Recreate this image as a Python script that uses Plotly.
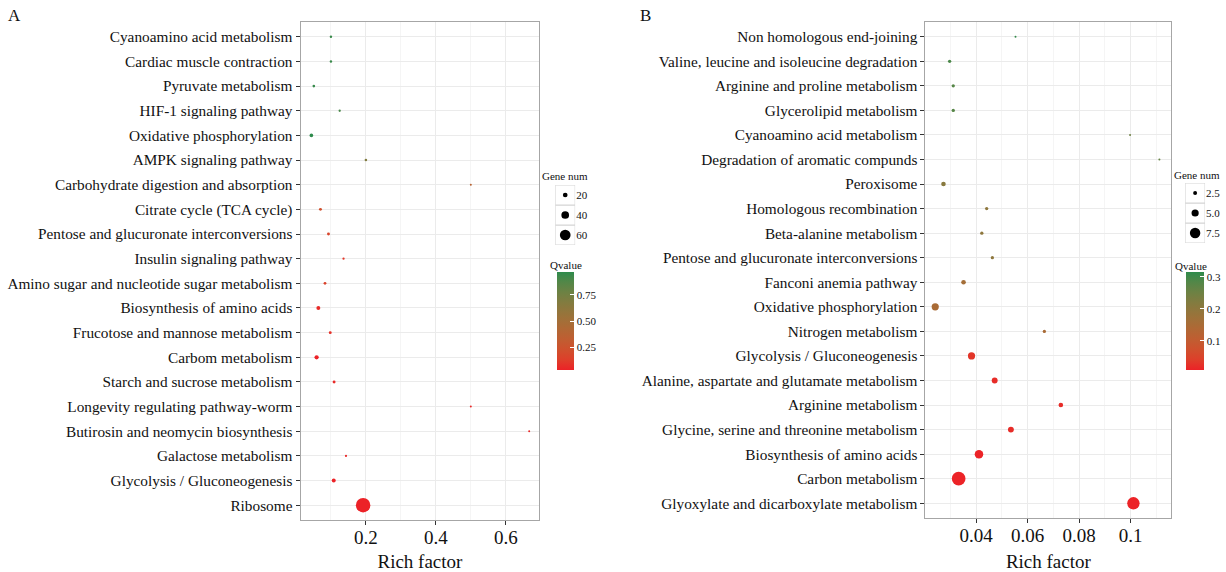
import plotly.graph_objects as go

# ---------------- data ----------------
a_terms = [
    "Cyanoamino acid metabolism", "Cardiac muscle contraction", "Pyruvate metabolism",
    "HIF-1 signaling pathway", "Oxidative phosphorylation", "AMPK signaling pathway",
    "Carbohydrate digestion and absorption", "Citrate cycle (TCA cycle)",
    "Pentose and glucuronate interconversions", "Insulin signaling pathway",
    "Amino sugar and nucleotide sugar metabolism", "Biosynthesis of amino acids",
    "Frucotose and mannose metabolism", "Carbom metabolism", "Starch and sucrose metabolism",
    "Longevity regulating pathway-worm", "Butirosin and neomycin biosynthesis",
    "Galactose metabolism", "Glycolysis / Gluconeogenesis", "Ribosome",
]
a_rich = [0.100, 0.100, 0.051, 0.125, 0.044, 0.200, 0.500, 0.070, 0.093, 0.136,
          0.083, 0.064, 0.098, 0.059, 0.109, 0.500, 0.667, 0.143, 0.108, 0.192]
a_genes = [5, 5, 6, 4, 13, 6, 2, 8, 8, 4, 7, 15, 8, 17, 8, 2, 2, 3, 15, 85]
a_q = [0.94, 0.94, 0.95, 0.90, 0.97, 0.68, 0.38, 0.22, 0.16, 0.10,
       0.15, 0.06, 0.08, 0.03, 0.06, 0.05, 0.05, 0.05, 0.03, 0.03]

b_terms = [
    "Non homologous end-joining", "Valine, leucine and isoleucine degradation",
    "Arginine and proline metabolism", "Glycerolipid metabolism",
    "Cyanoamino acid metabolism", "Degradation of aromatic compunds", "Peroxisome",
    "Homologous recombination", "Beta-alanine metabolism",
    "Pentose and glucuronate interconversions", "Fanconi anemia pathway",
    "Oxidative phosphorylation", "Nitrogen metabolism", "Glycolysis / Gluconeogenesis",
    "Alanine, aspartate and glutamate metabolism", "Arginine metabolism",
    "Glycine, serine and threonine metabolism", "Biosynthesis of amino acids",
    "Carbon metabolism", "Glyoxylate and dicarboxylate metabolism",
]
b_rich = [0.0553, 0.0297, 0.0311, 0.0311, 0.0998, 0.1112, 0.0273, 0.0441, 0.0422, 0.0463,
          0.0351, 0.0241, 0.0665, 0.0382, 0.0472, 0.0729, 0.0535, 0.0411, 0.0332, 0.1011]
b_genes = [1, 2, 2, 2, 1, 1, 3, 2, 2, 2, 3, 5, 2, 5, 4, 3, 4, 6, 10, 9]
b_q = [0.31, 0.29, 0.28, 0.28, 0.25, 0.26, 0.21, 0.20, 0.20, 0.20,
       0.16, 0.15, 0.15, 0.03, 0.02, 0.02, 0.02, 0.01, 0.01, 0.01]

a_size_breaks = [20, 40, 60]
b_size_breaks = [2.5, 5.0, 7.5]
a_size_labels = ["20", "40", "60"]
b_size_labels = ["2.5", "5.0", "7.5"]
a_q_ticks = [0.25, 0.50, 0.75]
b_q_ticks = [0.1, 0.2, 0.3]
a_q_labels = ["0.25", "0.50", "0.75"]
b_q_labels = ["0.1", "0.2", "0.3"]
a_x_ticks = [0.2, 0.4, 0.6]
b_x_ticks = [0.04, 0.06, 0.08, 0.1]
a_x_labels = ["0.2", "0.4", "0.6"]
b_x_labels = ["0.04", "0.06", "0.08", "0.1"]

# ---------------- styling helpers ----------------
W, H = 1226, 572
FONT = "Liberation Serif, Times New Roman, serif"
TXT = "#111111"


def srgb_to_lin(c):
    c = c / 255.0
    return c / 12.92 if c <= 0.04045 else ((c + 0.055) / 1.055) ** 2.4


def lin_to_srgb(c):
    c = max(0.0, min(1.0, c))
    v = 12.92 * c if c <= 0.0031308 else 1.055 * c ** (1 / 2.4) - 0.055
    return int(round(max(0, min(1, v)) * 255))


def rgb_to_lab(rgb):
    r, g, b = [srgb_to_lin(v) for v in rgb]
    x = (0.4124 * r + 0.3576 * g + 0.1805 * b) / 0.95047
    y = (0.2126 * r + 0.7152 * g + 0.0722 * b)
    z = (0.0193 * r + 0.1192 * g + 0.9505 * b) / 1.08883

    def f(t):
        return t ** (1 / 3) if t > 0.008856 else 7.787 * t + 16 / 116
    fx, fy, fz = f(x), f(y), f(z)
    return (116 * fy - 16, 500 * (fx - fy), 200 * (fy - fz))


def lab_to_rgb(lab):
    L, A, B = lab
    fy = (L + 16) / 116
    fx = fy + A / 500
    fz = fy - B / 200

    def finv(t):
        return t ** 3 if t ** 3 > 0.008856 else (t - 16 / 116) / 7.787
    x, y, z = finv(fx) * 0.95047, finv(fy), finv(fz) * 1.08883
    r = 3.2406 * x - 1.5372 * y - 0.4986 * z
    g = -0.9689 * x + 1.8758 * y + 0.0415 * z
    b = 0.0557 * x - 0.2040 * y + 1.0570 * z
    return "rgb(%d,%d,%d)" % (lin_to_srgb(r), lin_to_srgb(g), lin_to_srgb(b))


LOW = (236, 34, 39)
HIGH = (46, 139, 76)
lo_lab, hi_lab = rgb_to_lab(LOW), rgb_to_lab(HIGH)
colorscale = []
for i in range(11):
    t = i / 10
    lab = tuple(lo_lab[k] + (hi_lab[k] - lo_lab[k]) * t for k in range(3))
    colorscale.append([t, lab_to_rgb(lab)])


def diam_a(g):
    return 1.7 + 0.15 * g


def diam_b(g):
    return 0.7 + 1.3 * g


def px_x(p):
    return p / W


def px_y(p):
    return 1 - p / H


fig = go.Figure()

fig.add_trace(go.Scatter(
    x=a_rich, y=a_terms, mode="markers", xaxis="x", yaxis="y", showlegend=False,
    marker=dict(size=[diam_a(g) for g in a_genes], sizemode="diameter",
                color=a_q, coloraxis="coloraxis", line=dict(width=0), opacity=1),
    hoverinfo="x+y",
))
fig.add_trace(go.Scatter(
    x=b_rich, y=b_terms, mode="markers", xaxis="x2", yaxis="y2", showlegend=False,
    marker=dict(size=[diam_b(g) for g in b_genes], sizemode="diameter",
                color=b_q, coloraxis="coloraxis2", line=dict(width=0), opacity=1),
    hoverinfo="x+y",
))

# size legends (keys drawn on small helper axes)
fig.add_trace(go.Scatter(
    x=[0 for _ in a_size_breaks], y=a_size_labels, mode="markers", xaxis="x3", yaxis="y3",
    showlegend=False, hoverinfo="skip",
    marker=dict(size=[diam_a(g) for g in a_size_breaks], sizemode="diameter",
                color="black", line=dict(width=0), opacity=1),
))
fig.add_trace(go.Scatter(
    x=[0 for _ in b_size_breaks], y=b_size_labels, mode="markers", xaxis="x4", yaxis="y4",
    showlegend=False, hoverinfo="skip",
    marker=dict(size=[diam_b(g) for g in b_size_breaks], sizemode="diameter",
                color="black", line=dict(width=0), opacity=1),
))

grid = "#EBEBEB"
minor_grid = "#F5F5F5"
border = "#A6A6A6"


def xaxis(domain, rng, ticks, texts, minor_vals, anchor):
    return dict(
        domain=domain, range=rng, anchor=anchor, tickmode="array", tickvals=ticks,
        ticktext=texts,
        showgrid=True, gridcolor=grid, gridwidth=1, zeroline=False,
        showline=True, mirror=True, linecolor=border, linewidth=1,
        ticks="outside", ticklen=4, tickcolor="#333333", tickwidth=1,
        ticklabelstandoff=-4,
        tickfont=dict(family=FONT, size=19, color=TXT),
        title=dict(text="Rich factor", font=dict(family=FONT, size=19, color=TXT), standoff=10),
        minor=dict(tickmode="array", tickvals=minor_vals, showgrid=True,
                   gridcolor=minor_grid, ticks=""),
        automargin=False, fixedrange=True,
    )


def yaxis(domain, terms, anchor):
    return dict(
        domain=domain, anchor=anchor, type="category", categoryorder="array",
        categoryarray=list(reversed(terms)), range=[-0.6, len(terms) - 0.4],
        showgrid=True, gridcolor=grid, gridwidth=1, zeroline=False,
        showline=True, mirror=True, linecolor=border, linewidth=1,
        ticks="outside", ticklen=4, tickcolor="#333333", tickwidth=1,
        tickfont=dict(family=FONT, size=15.3, color=TXT),
        automargin=False, fixedrange=True,
    )


def key_xaxis(domain, anchor):
    return dict(domain=domain, anchor=anchor, range=[-0.5, 0.5], visible=False,
                fixedrange=True)


def key_yaxis(domain, anchor, labels):
    return dict(domain=domain, anchor=anchor, type="category", categoryorder="array",
                categoryarray=list(reversed(labels)), range=[-0.5, len(labels) - 0.5],
                side="right", showgrid=False, zeroline=False, showline=False, ticks="",
                tickfont=dict(family=FONT, size=11, color=TXT), automargin=False,
                fixedrange=True)


def colorbar(x_px, thick, tickvals, ticktext):
    return dict(
        x=px_x(x_px), xanchor="left", y=px_y(272), yanchor="top",
        len=98, lenmode="pixels", thickness=thick, thicknessmode="pixels",
        outlinewidth=0, tickmode="array", tickvals=tickvals,
        ticktext=ticktext, ticks="inside", ticklen=4,
        tickcolor="white", tickfont=dict(family=FONT, size=11, color=TXT),
        xpad=0, ypad=0,
    )


def key_boxes(xref, yref, n):
    out = []
    for i in range(n):
        out.append(dict(type="rect", xref=xref, yref=yref, x0=-0.5, x1=0.5,
                        y0=i - 0.5, y1=i + 0.5, line=dict(color="#D4D4D4", width=1),
                        fillcolor="white", layer="below"))
    return out


def label(text, x, y, size=11):
    return dict(text=text, x=px_x(x), y=px_y(y), xref="paper", yref="paper",
                xanchor="left", yanchor="middle", showarrow=False,
                font=dict(family=FONT, size=size, color=TXT))


fig.update_layout(
    width=W, height=H, margin=dict(l=0, r=0, t=0, b=0),
    paper_bgcolor="white", plot_bgcolor="white",
    font=dict(family=FONT, color=TXT),
    showlegend=False,
    xaxis=xaxis([px_x(302), px_x(542)], [0.013, 0.696], a_x_ticks, a_x_labels,
                [0.1, 0.3, 0.5], "y"),
    yaxis=yaxis([px_y(520), px_y(22)], a_terms, "x"),
    xaxis2=xaxis([px_x(930), px_x(1177)], [0.0203, 0.1158], b_x_ticks, b_x_labels,
                 [0.03, 0.05, 0.07, 0.09, 0.11], "y2"),
    yaxis2=yaxis([px_y(518), px_y(22)], b_terms, "x2"),
    xaxis3=key_xaxis([px_x(558), px_x(578)], "y3"),
    yaxis3=key_yaxis([px_y(245), px_y(185)], "x3", a_size_labels),
    xaxis4=key_xaxis([px_x(1191), px_x(1211)], "y4"),
    yaxis4=key_yaxis([px_y(243), px_y(183)], "x4", b_size_labels),
    coloraxis=dict(colorscale=colorscale, cmin=0.03, cmax=0.97,
                   colorbar=colorbar(560, 17, a_q_ticks, a_q_labels)),
    coloraxis2=dict(colorscale=colorscale, cmin=0.009, cmax=0.315,
                    colorbar=colorbar(1192, 18, b_q_ticks, b_q_labels)),
    shapes=key_boxes("x3", "y3", 3) + key_boxes("x4", "y4", 3),
    annotations=[
        label("A", 6, 15, 17),
        label("B", 641, 15, 17),
        label("Gene num", 543, 176),
        label("Qvalue", 551, 265),
        label("Gene num", 1178, 175),
        label("Qvalue", 1179, 266),
    ],
)

fig.write_html(
    "out.html",
    config={"displayModeBar": False},
    post_script="document.body.style.margin='0';document.body.style.overflow='hidden';",
)
